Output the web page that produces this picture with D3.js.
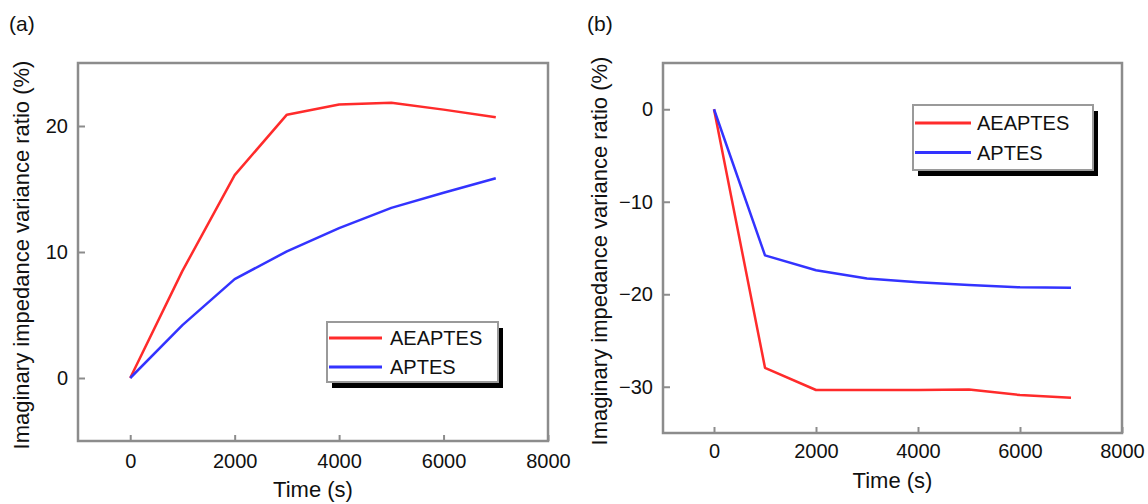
<!DOCTYPE html>
<html>
<head>
<meta charset="utf-8">
<script src="https://cdn.jsdelivr.net/npm/d3@7"></script>
<style>
  html, body { margin: 0; padding: 0; background: #fff; }
  svg { display: block; font-family: "Liberation Sans", Arial, sans-serif; }
</style>
</head>
<body>
<svg id="fig" width="1148" height="504"></svg>
<script>
// time points (s)
var timeS = [0, 1000, 2000, 3000, 4000, 5000, 6000, 7000];

// panel (a) values, %
var aeaptesA = [0, 8.5, 16.1, 20.9, 21.7, 21.85, 21.3, 20.7];
var aptesA = [0, 4.2, 7.85, 10.05, 11.9, 13.5, 14.7, 15.85];

// panel (b) values, %
var aeaptesB = [0, -27.95, -30.35, -30.35, -30.35, -30.3, -30.9, -31.2];
var aptesB = [0, -15.8, -17.4, -18.3, -18.7, -19.0, -19.25, -19.3];

var seriesNames = ["AEAPTES", "APTES"];
var seriesColors = ["#ff2b2b", "#3333ff"];

var xTicks = [0, 2000, 4000, 6000, 8000];
var yTicksA = [0, 10, 20];
var yTicksB = [0, -10, -20, -30];

var xTitle = "Time (s)";
var yTitle = "Imaginary impedance variance ratio (%)";

var svg = d3.select("#fig");
var axisGray = "#8c8c8c";

function panel(o) {
    var x = d3.scaleLinear().domain([-1000, 8000]).range([o.left, o.right]);
    var y = d3.scaleLinear().domain(o.yDom).range([o.bottom, o.top]);
    var g = svg.append("g");

    // x axis, ticks pointing inward
    var gx = g.append("g")
        .attr("transform", "translate(0," + o.bottom + ")")
        .call(d3.axisBottom(x).tickValues(xTicks).tickFormat(d3.format("d"))
            .tickSizeInner(-6).tickSizeOuter(0).tickPadding(o.xPad));
    var gy = g.append("g")
        .attr("transform", "translate(" + o.left + ",0)")
        .call(d3.axisLeft(y).tickValues(o.yTicks)
            .tickSizeInner(-7).tickSizeOuter(0).tickPadding(10));

    [gx, gy].forEach(function (a) {
        a.select(".domain").remove();
        a.selectAll(".tick line").attr("stroke", axisGray).attr("stroke-width", 2);
        a.selectAll(".tick text").attr("font-size", "20px").attr("fill", "#111")
            .attr("font-family", "Liberation Sans, Arial, sans-serif");
    });

    // frame
    g.append("rect")
        .attr("x", o.left).attr("y", o.top)
        .attr("width", o.right - o.left).attr("height", o.bottom - o.top)
        .attr("fill", "none").attr("stroke", axisGray).attr("stroke-width", 2.5);

    var line = d3.line()
        .x(function (d) { return x(d[0]); })
        .y(function (d) { return y(d[1]); });

    o.series.forEach(function (vals, i) {
        g.append("path")
            .datum(d3.zip(timeS, vals))
            .attr("d", line)
            .attr("fill", "none")
            .attr("stroke", seriesColors[i])
            .attr("stroke-width", 2.5)
            .attr("stroke-linejoin", "round");
    });

    // axis titles
    g.append("text")
        .attr("x", (o.left + o.right) / 2).attr("y", o.xTitleY)
        .attr("text-anchor", "middle").attr("font-size", "22px").attr("fill", "#111")
        .text(xTitle);
    g.append("text")
        .attr("transform", "translate(" + o.yTitleX + "," + o.yTitleCy + ") rotate(-90)")
        .attr("text-anchor", "middle").attr("font-size", "22px").attr("fill", "#111")
        .text(yTitle);

    // panel letter
    g.append("text")
        .attr("x", o.labelX).attr("y", 31)
        .attr("font-size", "21px").attr("fill", "#111")
        .text(o.label);

    // legend box with black drop shadow
    var L = o.legend;
    g.append("rect")
        .attr("x", L.x + 5).attr("y", L.y + 6)
        .attr("width", L.w).attr("height", L.h)
        .attr("fill", "#000");
    g.append("rect")
        .attr("x", L.x).attr("y", L.y)
        .attr("width", L.w).attr("height", L.h)
        .attr("fill", "#fff").attr("stroke", "#9a9a9a").attr("stroke-width", 2);

    seriesNames.forEach(function (name, i) {
        var ly = L.y + L.row0 + i * L.rowGap;
        g.append("line")
            .attr("x1", L.x + 2).attr("x2", L.x + L.lineLen)
            .attr("y1", ly).attr("y2", ly)
            .attr("stroke", seriesColors[i]).attr("stroke-width", 3);
        g.append("text")
            .attr("x", L.x + L.textX).attr("y", ly).attr("dy", "0.36em")
            .attr("font-size", "20px").attr("fill", "#111")
            .text(name);
    });
}

panel({
    left: 78, right: 548, top: 63, bottom: 441,
    yDom: [-5, 25], yTicks: yTicksA,
    series: [aeaptesA, aptesA],
    xPad: 13, xTitleY: 497,
    yTitleX: 29, yTitleCy: 255,
    label: "(a)", labelX: 9,
    legend: { x: 327, y: 322, w: 171, h: 60, row0: 16, rowGap: 29, lineLen: 55, textX: 63 }
});

panel({
    left: 663, right: 1122, top: 63, bottom: 433,
    yDom: [-35, 5], yTicks: yTicksB,
    series: [aeaptesB, aptesB],
    xPad: 11, xTitleY: 488,
    yTitleX: 607, yTitleCy: 251,
    label: "(b)", labelX: 587,
    legend: { x: 913, y: 105, w: 180, h: 65, row0: 18, rowGap: 29.5, lineLen: 58, textX: 64 }
});
</script>
</body>
</html>
